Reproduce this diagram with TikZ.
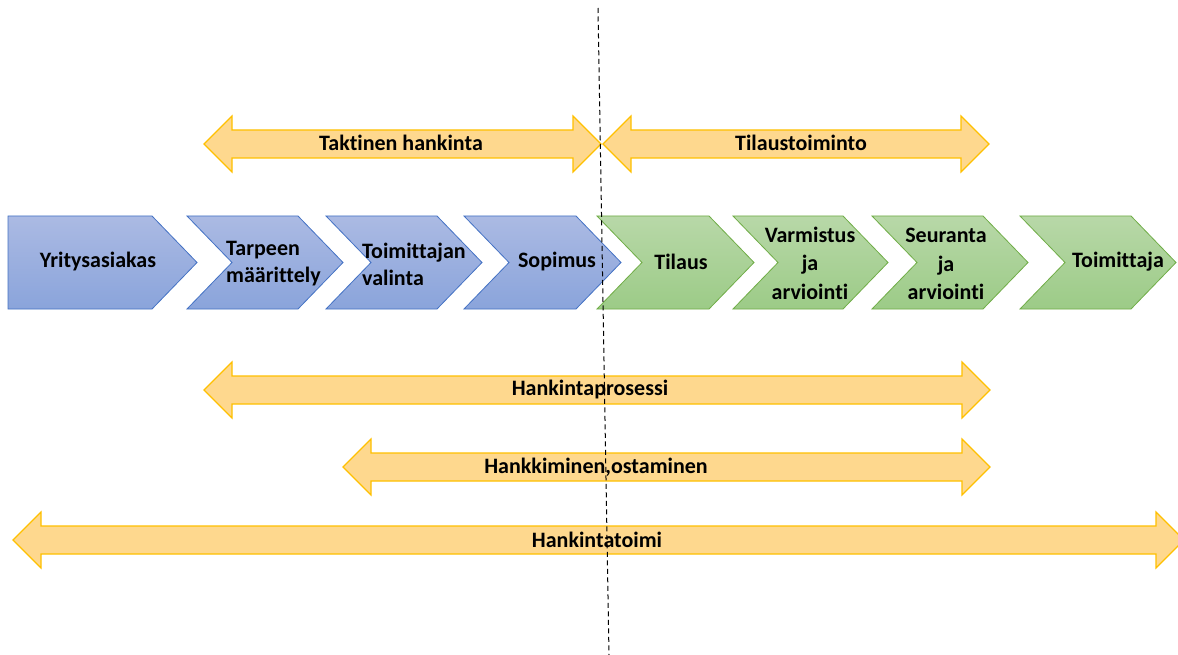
\documentclass[tikz,border=0pt]{standalone}
\usepackage{fontspec}
\setmainfont{Carlito}[Ligatures={NoCommon}]
\definecolor{chevblue}{HTML}{4472C4}
\definecolor{bluetop}{HTML}{ABBAE3}
\definecolor{bluebot}{HTML}{8AA4DB}
\definecolor{chevgreen}{HTML}{70AD47}
\definecolor{greentop}{HTML}{B8D8A8}
\definecolor{greenbot}{HTML}{9CCB87}
\definecolor{orborder}{HTML}{FFC000}
\definecolor{orfill}{HTML}{FED88E}
\tikzset{
  bluechev/.style={draw=chevblue, top color=bluetop, bottom color=bluebot, line width=0.8pt, line join=miter},
  greenchev/.style={draw=chevgreen, top color=greentop, bottom color=greenbot, line width=0.8pt, line join=miter},
  orarrow/.style={draw=orborder, fill=orfill, line width=1.1pt, line join=miter},
  lbl/.style={font=\bfseries\fontsize{22}{27}\selectfont, text=black, inner sep=0pt},
  lbl3/.style={font=\bfseries\fontsize{22}{28.5}\selectfont, text=black, inner sep=0pt, align=center},
  divider/.style={draw=black, line width=1pt, dash pattern=on 5pt off 3.5pt},
}
\newcommand\chevshape[3]{% style, left, right corner
  \draw[#1] (#2,216) -- (#3,216) -- (#3+45,262.5) -- (#3,309) -- (#2,309) -- (#2+45,262.5) -- cycle;}
\newcommand\dblarr[3]{% left tip, right tip, centre y
  \draw[orarrow] (#1,#3) -- (#1+28,#3-28) -- (#1+28,#3-14) -- (#2-28,#3-14) -- (#2-28,#3-28) -- (#2,#3)
    -- (#2-28,#3+28) -- (#2-28,#3+14) -- (#1+28,#3+14) -- (#1+28,#3+28) -- cycle;}
\begin{document}
\begin{tikzpicture}[x=1pt,y=-1pt]
\useasboundingbox[fill=white] (0,0) rectangle (1178,655);
\clip (0,0) rectangle (1178,655);
% top arrows
\dblarr{204}{601}{144}
\dblarr{603}{989}{144}
% chevrons
\draw[bluechev] (8,216) -- (152,216) -- (197,262.5) -- (152,309) -- (8,309) -- cycle;
\chevshape{bluechev}{187}{298}
\chevshape{bluechev}{326}{437}
\chevshape{bluechev}{464}{576}
\chevshape{greenchev}{597}{709}
\chevshape{greenchev}{733}{843}
\chevshape{greenchev}{872}{983}
\chevshape{greenchev}{1020}{1131}
% lower arrows
\dblarr{204}{990}{390}
\dblarr{343}{990}{467}
\dblarr{13}{1184}{540}
% labels
\node[lbl] (taktinen) at (401,143) {Taktinen hankinta};
\node[lbl] (tilaustoim) at (801,143) {Tilaustoiminto};
\node[lbl] (yrit) at (98,262) {Yritysasiakas};
\node[lbl, align=left, anchor=west] (tarpeen) at (226,264) {Tarpeen\\määrittely};
\node[lbl, align=left, anchor=west] (toimvalinta) at (362,264) {Toimittajan\\valinta};
\node[lbl] (sopimus) at (557,262) {Sopimus};
\node[lbl] (tilaus) at (681,262) {Tilaus};
\node[lbl3] (varmistus) at (810,263) {Varmistus\\ja\\arviointi};
\node[lbl3] (seuranta) at (946,264) {Seuranta\\ja\\arviointi};
\node[lbl] (toimittaja) at (1118,262) {Toimittaja};
\node[lbl] (prosessi) at (590,390) {Hankintaprosessi};
\node[lbl] (hankkiminen) at (596,467) {Hankkiminen,ostaminen};
\node[lbl] (toimi) at (597,540) {Hankintatoimi};
% divider
\coordinate (dtop) at (598,8);
\coordinate (dbot) at (609,655);
\draw[divider] (dtop) -- (dbot);
\end{tikzpicture}
\end{document}
